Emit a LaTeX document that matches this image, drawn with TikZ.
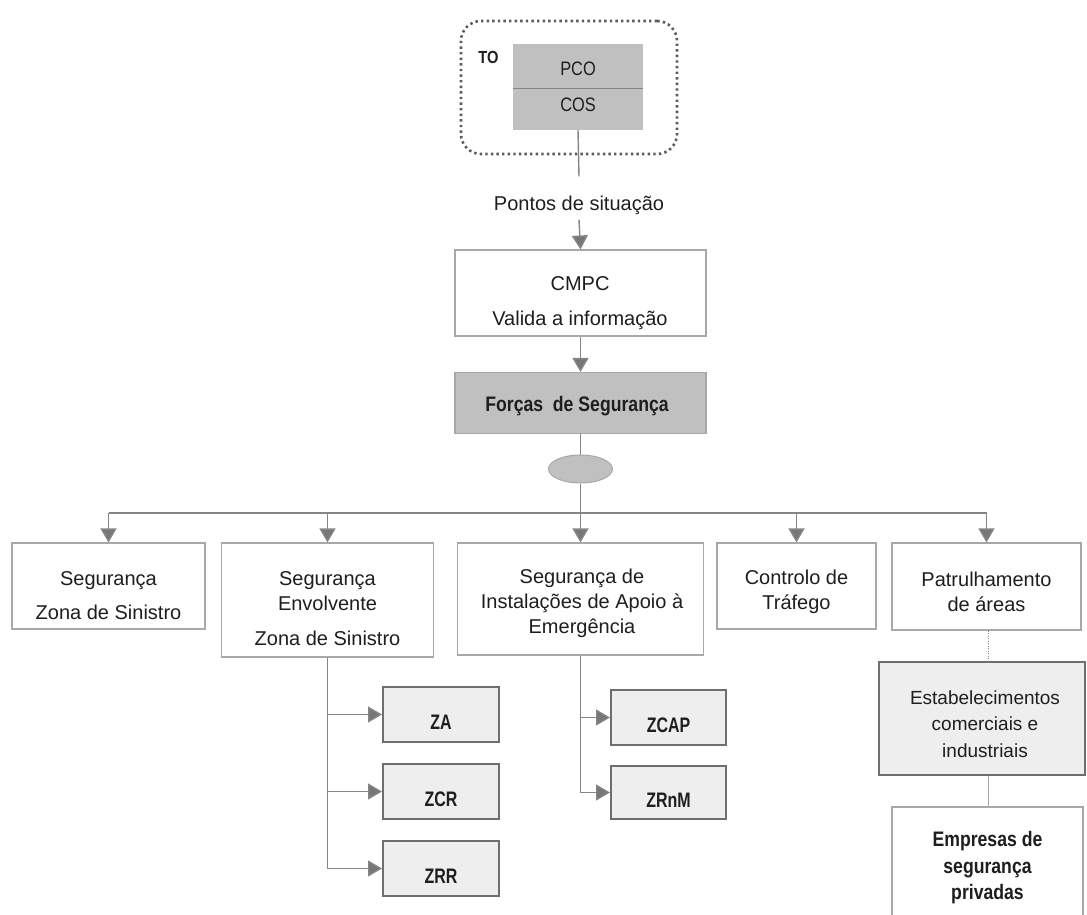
\documentclass[tikz,border=0pt]{standalone}
\usepackage{fontspec}
\setmainfont{Liberation Sans}
\newfontfamily\narrowsans[FakeStretch=0.84]{Liberation Sans}
\newfontfamily\zonesans[FakeStretch=0.76]{Liberation Sans}
\usetikzlibrary{arrows.meta,shapes.geometric,calc}

\definecolor{linegray}{HTML}{858585}
\definecolor{tipgray}{HTML}{777777}
\definecolor{framegray}{HTML}{5C5C5C}
\definecolor{midfill}{HTML}{C0C0C0}
\definecolor{lightfill}{HTML}{EEEEEE}
\definecolor{boxedge}{HTML}{A8A8A8}
\definecolor{darkedge}{HTML}{6E6E6E}
\definecolor{ink}{HTML}{1E1E1E}

\tikzset{
  conn/.style={draw=linegray, line width=1.4pt},
  arr/.style={conn, -{Triangle[width=16pt,length=14pt,fill=tipgray]}},
  thinconn/.style={draw=boxedge, line width=0.9pt},
  dotconn/.style={draw=linegray, line width=0.9pt, dash pattern=on 1pt off 1.5pt},
  toframe/.style={draw=framegray, line width=2.6pt, dash pattern=on 2.4pt off 3.2pt,
    rounded corners=20pt, inner sep=0pt},
  greycell/.style={fill=midfill, inner sep=0pt, text=ink,
    font=\narrowsans\fontsize{19.5}{22}\selectfont},
  wbox/.style={draw=boxedge, line width=1.1pt, fill=white, inner sep=0pt},
  gbox/.style={draw=boxedge, line width=1.1pt, fill=midfill, inner sep=0pt},
  zbox/.style={draw=darkedge, line width=2pt, fill=lightfill, inner sep=3pt,
    minimum width=116pt, minimum height=55pt, text height=30pt, text depth=0pt,
    font=\zonesans\bfseries\fontsize{21}{24}\selectfont, text=ink},
  boxtext/.style={align=center, inner sep=0pt, text=ink,
    font=\fontsize{20}{25}\selectfont},
  oval/.style={ellipse, fill=midfill, draw=boxedge, line width=1pt, inner sep=0pt,
    minimum width=64pt, minimum height=28pt},
}

\begin{document}
\begin{tikzpicture}[x=1pt,y=-1pt]
\useasboundingbox (0,0) rectangle (1087,915);
\clip (0,0) rectangle (1087,915);

% top group: operations theatre with PCO / COS
\node[toframe, minimum width=216pt, minimum height=133pt] (to) at (569,87.5) {};
\node[font=\narrowsans\bfseries\fontsize{17.5}{20}\selectfont, text=ink, inner sep=0pt] (tolabel) at (488.5,57) {TO};
\node[greycell, minimum width=130pt, minimum height=44pt, text height=20pt, text depth=0pt] (pco) at (578,66) {PCO};
\node[greycell, minimum width=130pt, minimum height=42pt, text height=10pt, text depth=4pt] (cos) at (578,109) {COS};
\draw[draw=linegray, line width=1.2pt] (pco.south west) -- (pco.south east);

\node[boxtext, inner sep=4pt] (pontos) at (579,205) {Pontos de situação};

% validation and security forces
\node[wbox, minimum width=251pt, minimum height=86pt] (cmpc) at (580.5,293) {};
\node[boxtext, font=\fontsize{20}{35}\selectfont] (cmpctxt) at (580,303.5) {CMPC\\Valida a informação};
\node[gbox, minimum width=251pt, minimum height=61pt] (forcas) at (580.5,403) {};
\node[boxtext, font=\narrowsans\bfseries\fontsize{21}{24}\selectfont] (forcastxt) at (577,406) {Forças~~de Segurança};
\node[oval] (ell) at (580.5,469) {};

% second level
\node[wbox, minimum width=193pt, minimum height=86pt] (b1) at (108.5,586) {};
\node[wbox, minimum width=212pt, minimum height=114pt] (b2) at (327.5,600) {};
\node[wbox, minimum width=246pt, minimum height=112pt] (b3) at (580.5,599) {};
\node[wbox, minimum width=159pt, minimum height=86pt] (b4) at (796.5,586) {};
\node[wbox, minimum width=189pt, minimum height=87pt] (b5) at (986.5,586.5) {};

\node[boxtext] (b1txt) at (108.5,595.5) {Segurança\\[9pt]Zona de Sinistro};
\node[boxtext] (b2txt) at (327.5,609) {Segurança\\Envolvente\\[10pt]Zona de Sinistro};
\node[boxtext] (b3txt) at (582,603.5) {Segurança de\\Instalações de Apoio à\\Emergência};
\node[boxtext] (b4txt) at (796.5,591.5) {Controlo de\\Tráfego};
\node[boxtext] (b5txt) at (986.5,591.5) {Patrulhamento\\de áreas};

% zones
\node[zbox] (za)   at (441,714.5) {ZA};
\node[zbox] (zcr)  at (441,791.5) {ZCR};
\node[zbox] (zrr)  at (441,868.5) {ZRR};
\node[zbox, minimum width=115pt] (zcap) at (668.5,717.5) {ZCAP};
\node[zbox, minimum width=115pt, minimum height=53pt] (zrnm) at (668.5,792.5) {ZRnM};

% private establishments
\node[wbox, draw=darkedge, line width=2pt, fill=lightfill, minimum width=206pt, minimum height=113pt] (estab) at (982,718.5) {};
\node[boxtext, font=\fontsize{19}{26.5}\selectfont] (estabtxt) at (985,724) {Estabelecimentos\\comerciais e\\industriais};
\node[wbox, minimum width=191pt, minimum height=140pt] (emp) at (987.5,877) {};
\node[boxtext, font=\narrowsans\bfseries\fontsize{21}{26.5}\selectfont] (emptxt) at (987.5,868) {Empresas de\\segurança\\privadas};

% connectors
\coordinate (bus) at (580.5,513);
\draw[conn] (cos.south) -- ([yshift=15pt]pontos.north);
\draw[arr] ([yshift=-1pt]pontos.south) -- (cmpc.north);
\draw[arr] (cmpc.south) -- (forcas.north);
\draw[conn] (forcas.south) -- (ell.north);
\draw[arr] (ell.south) -- (b3.north);
\draw[conn] (b1.north |- bus) -- (b5.north |- bus);
\draw[arr] (b1.north |- bus) -- (b1.north);
\draw[arr] (b2.north |- bus) -- (b2.north);
\draw[arr] (b4.north |- bus) -- (b4.north);
\draw[arr] (b5.north |- bus) -- (b5.north);

\draw[arr] (b2.south) |- (za.west);
\draw[arr] (b2.south) |- (zcr.west);
\draw[arr] (b2.south) |- (zrr.west);
\draw[arr] (b3.south) |- (zcap.west);
\draw[arr] (b3.south) |- (zrnm.west);

\draw[dotconn] ([xshift=1.5pt]b5.south) -- ([xshift=1.5pt]b5.south |- estab.north);
\draw[thinconn] ([xshift=1.5pt]b5.south |- estab.south) -- ([xshift=1.5pt]b5.south |- emp.north);
\end{tikzpicture}
\end{document}
